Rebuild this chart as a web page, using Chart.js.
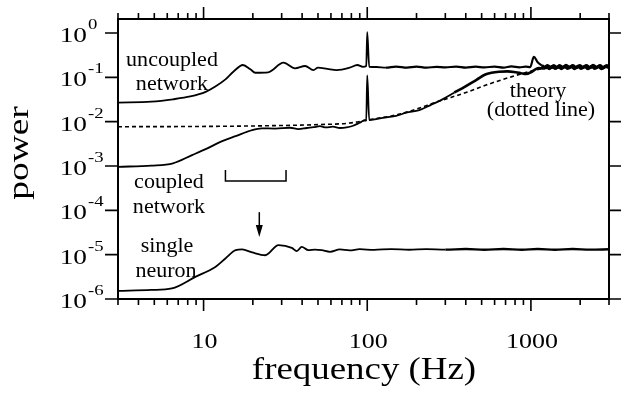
<!DOCTYPE html>
<html>
<head>
<meta charset="utf-8">
<script src="https://cdn.jsdelivr.net/npm/chart.js@4.4.0/dist/chart.umd.min.js"></script>
<style>
  html, body { margin: 0; padding: 0; background: #fff; }
  #wrap { width: 621px; height: 397px; position: relative; }
</style>
</head>
<body>
<div id="wrap"><canvas id="chart"></canvas></div>
<script>
// spectra: frequency (Hz) and power
const uncoupledFreq = [3, 4.8, 6.5, 8.3, 10.3, 11.8, 13.6, 15.2, 17.4, 19.3, 20.7, 24.8, 30.8, 36.2, 41.7, 46.9, 50, 57, 65, 78, 87, 94, 98.6, 100, 102.8, 114, 130, 150, 175, 200, 230, 265, 300, 350, 400, 460, 520, 600, 680, 760, 850, 930, 990, 1042, 1100, 1167, 1215, 1265, 1320, 1380, 1440, 1500, 1570, 1640, 1720, 1800, 1890, 1980, 2080, 2180, 2290, 2400, 2520, 2640, 2770, 2900, 3000];
const uncoupledPower = [0.027, 0.0284, 0.032, 0.037, 0.047, 0.062, 0.090, 0.134, 0.19, 0.152, 0.127, 0.13, 0.214, 0.16, 0.18, 0.146, 0.165, 0.155, 0.146, 0.165, 0.19, 0.173, 0.18, 1.04, 0.173, 0.171, 0.165, 0.175, 0.166, 0.174, 0.165, 0.173, 0.167, 0.175, 0.166, 0.174, 0.167, 0.175, 0.166, 0.176, 0.168, 0.175, 0.17, 0.29, 0.22, 0.185, 0.168, 0.184, 0.165, 0.185, 0.166, 0.184, 0.165, 0.186, 0.166, 0.184, 0.165, 0.185, 0.166, 0.184, 0.165, 0.186, 0.166, 0.184, 0.165, 0.185, 0.175];

const coupledFreq = [3, 4.8, 6.5, 8.5, 10.3, 13, 15.7, 19.8, 22.7, 27.4, 33.8, 38, 42.7, 47, 51.4, 56, 61.7, 68, 74.7, 82, 90, 96.6, 98.6, 100, 102.8, 115, 131, 150, 173, 208, 245, 288, 340, 401, 465, 531, 638, 720, 807, 870, 929, 1000, 1060, 1119, 1190, 1240, 1295, 1350, 1410, 1470, 1535, 1605, 1680, 1760, 1845, 1935, 2030, 2130, 2235, 2345, 2460, 2580, 2710, 2850, 3000];
const coupledPower = [0.00096, 0.00102, 0.00115, 0.00176, 0.0024, 0.00365, 0.00473, 0.00646, 0.00706, 0.0070, 0.0073, 0.0068, 0.0072, 0.0075, 0.0079, 0.0074, 0.0077, 0.0072, 0.0074, 0.0081, 0.0095, 0.0108, 0.0106, 0.11, 0.0109, 0.0116, 0.0125, 0.0135, 0.0159, 0.0183, 0.024, 0.0319, 0.045, 0.0636, 0.088, 0.117, 0.134, 0.136, 0.13, 0.124, 0.119, 0.13, 0.15, 0.163, 0.158, 0.176, 0.157, 0.177, 0.158, 0.176, 0.157, 0.177, 0.158, 0.176, 0.157, 0.177, 0.158, 0.176, 0.157, 0.177, 0.158, 0.176, 0.157, 0.176, 0.168];

const singleFreq = [3, 4.8, 6.4, 8.9, 11.8, 13.6, 15.7, 17.2, 19.8, 23.8, 28.7, 34.6, 37.1, 39.8, 43.7, 48, 52.7, 59.2, 68, 78, 90, 110, 140, 180, 230, 300, 400, 520, 680, 880, 1100, 1400, 1800, 2300, 3000];
const singlePower = [1.52e-6, 1.6e-6, 1.73e-6, 3.15e-6, 5.3e-6, 8.2e-6, 1.26e-5, 1.31e-5, 1.12e-5, 9.7e-6, 1.64e-5, 1.42e-5, 1.2e-5, 1.5e-5, 1.26e-5, 1.3e-5, 1.26e-5, 1.16e-5, 1.31e-5, 1.25e-5, 1.33e-5, 1.28e-5, 1.34e-5, 1.29e-5, 1.33e-5, 1.3e-5, 1.34e-5, 1.29e-5, 1.34e-5, 1.29e-5, 1.34e-5, 1.29e-5, 1.34e-5, 1.3e-5, 1.32e-5];

const theoryFreq = [3, 9.6, 24.8, 51.4, 78, 100, 158, 288, 392, 532, 735, 1014, 1285, 3000];
const theoryPower = [0.0077, 0.0078, 0.0081, 0.0086, 0.0093, 0.0109, 0.0148, 0.0307, 0.0442, 0.067, 0.099, 0.139, 0.162, 0.167];

// axis ticks
const xMajorTicks = [10, 100, 1000];
const xMajorLabels = ['10', '100', '1000'];
const xMinorTicks = [3, 4, 5, 6, 7, 8, 9, 20, 30, 40, 50, 60, 70, 80, 90, 200, 300, 400, 500, 600, 700, 800, 900, 2000, 3000];
const yTicks = [1e-6, 1e-5, 1e-4, 1e-3, 1e-2, 1e-1, 1];
const yExponents = ['-6', '-5', '-4', '-3', '-2', '-1', '0'];

// bracket and arrow marks
const bracketFreq = [13.6, 31.9];
const bracketPower = [8.1e-4, 4.6e-4];
const arrowFreq = 21.9;
const arrowPower = [9.1e-5, 2.5e-5];

const SERIF = '"Liberation Serif", "Times New Roman", serif';

function toPoints(f, p) {
    return f.map((x, i) => ({ x: x, y: p[i] }));
}

function drawText(ctx, txt, x, y, size, stretch, align) {
    ctx.save();
    ctx.font = size + 'px ' + SERIF;
    ctx.translate(x, y);
    ctx.scale(stretch, 1);
    ctx.textAlign = align;
    ctx.textBaseline = 'alphabetic';
    ctx.fillText(txt, 0, 0);
    ctx.restore();
}

const framePlugin = {
    id: 'frame',
    afterDatasetsDraw(chart) {
        const ctx = chart.ctx;
        const a = chart.chartArea;
        const xs = chart.scales.x;
        const ys = chart.scales.y;
        ctx.save();
        ctx.strokeStyle = '#000';
        ctx.fillStyle = '#000';

        // frame
        ctx.lineWidth = 2;
        ctx.strokeRect(a.left, a.top, a.right - a.left, a.bottom - a.top);

        // ticks, all pointing outwards
        ctx.lineWidth = 1.6;
        ctx.beginPath();
        xMajorTicks.forEach(v => {
            const px = xs.getPixelForValue(v);
            ctx.moveTo(px, a.bottom); ctx.lineTo(px, a.bottom + 12);
            ctx.moveTo(px, a.top); ctx.lineTo(px, a.top - 12);
        });
        xMinorTicks.forEach(v => {
            const px = xs.getPixelForValue(v);
            ctx.moveTo(px, a.bottom); ctx.lineTo(px, a.bottom + 6);
            ctx.moveTo(px, a.top); ctx.lineTo(px, a.top - 6);
        });
        yTicks.forEach(v => {
            const py = ys.getPixelForValue(v);
            ctx.moveTo(a.left - 13, py); ctx.lineTo(a.left, py);
            ctx.moveTo(a.right, py); ctx.lineTo(a.right + 12, py);
        });
        ctx.stroke();

        // tick labels
        xMajorTicks.forEach((v, i) => {
            drawText(ctx, xMajorLabels[i], xs.getPixelForValue(v) + 1, a.bottom + 49, 20, 1.3, 'center');
        });
        yTicks.forEach((v, i) => {
            const py = ys.getPixelForValue(v);
            drawText(ctx, '10', 87, py + 9, 21, 1.3, 'right');
            drawText(ctx, yExponents[i], 88, py - 4, 15, 1.25, 'left');
        });

        // axis titles
        drawText(ctx, 'frequency (Hz)', 364, 379, 31, 1.19, 'center');
        ctx.save();
        ctx.translate(28, 153);
        ctx.rotate(-Math.PI / 2);
        ctx.scale(1.25, 1);
        ctx.font = '30px ' + SERIF;
        ctx.textAlign = 'center';
        ctx.textBaseline = 'alphabetic';
        ctx.fillText('power', 0, 0);
        ctx.restore();

        // curve labels
        drawText(ctx, 'uncoupled', 172, 66, 21, 1.05, 'center');
        drawText(ctx, 'network', 172, 90, 21, 1.05, 'center');
        drawText(ctx, 'coupled', 169, 188, 21, 1.05, 'center');
        drawText(ctx, 'network', 169, 213, 21, 1.05, 'center');
        drawText(ctx, 'single', 167, 252, 21, 1.05, 'center');
        drawText(ctx, 'neuron', 166, 277, 21, 1.05, 'center');
        drawText(ctx, 'theory', 538, 97, 21, 1.05, 'center');
        drawText(ctx, '(dotted line)', 541, 116, 21, 1.05, 'center');

        // bracket
        const bx0 = xs.getPixelForValue(bracketFreq[0]);
        const bx1 = xs.getPixelForValue(bracketFreq[1]);
        const byTop = ys.getPixelForValue(bracketPower[0]);
        const byBot = ys.getPixelForValue(bracketPower[1]);
        ctx.lineWidth = 1.5;
        ctx.beginPath();
        ctx.moveTo(bx0, byTop); ctx.lineTo(bx0, byBot); ctx.lineTo(bx1, byBot); ctx.lineTo(bx1, byTop);
        ctx.stroke();

        // arrow
        const ax = xs.getPixelForValue(arrowFreq);
        const ay0 = ys.getPixelForValue(arrowPower[0]);
        const ay1 = ys.getPixelForValue(arrowPower[1]);
        ctx.beginPath();
        ctx.moveTo(ax, ay0); ctx.lineTo(ax, ay1 - 8);
        ctx.stroke();
        ctx.beginPath();
        ctx.moveTo(ax - 3.5, ay1 - 12); ctx.lineTo(ax + 3.5, ay1 - 12); ctx.lineTo(ax, ay1);
        ctx.closePath();
        ctx.fill();

        ctx.restore();
    }
};

const lineBase = {
    borderColor: '#000',
    borderWidth: 1.8,
    pointRadius: 0,
    fill: false,
    cubicInterpolationMode: 'monotone',
    borderJoinStyle: 'round'
};

new Chart(document.getElementById('chart'), {
    type: 'line',
    data: {
        datasets: [
            Object.assign({}, lineBase, {
                label: 'theory',
                data: toPoints(theoryFreq, theoryPower),
                borderWidth: 1.6,
                borderDash: [4, 3]
            }),
            Object.assign({}, lineBase, {
                label: 'uncoupled network',
                data: toPoints(uncoupledFreq, uncoupledPower),
                segment: { borderWidth: c => c.p0.parsed.x >= 1150 ? 3.2 : (c.p0.parsed.x >= 130 ? 2.2 : 1.8) }
            }),
            Object.assign({}, lineBase, {
                label: 'coupled network',
                data: toPoints(coupledFreq, coupledPower),
                segment: { borderWidth: c => c.p0.parsed.x >= 1150 ? 3 : (c.p0.parsed.x >= 300 ? 2.6 : 1.8) }
            }),
            Object.assign({}, lineBase, {
                label: 'single neuron',
                data: toPoints(singleFreq, singlePower),
                segment: { borderWidth: c => c.p0.parsed.x >= 300 ? 2.4 : 1.8 }
            })
        ]
    },
    options: {
        responsive: true,
        maintainAspectRatio: false,
        animation: false,
        layout: { padding: { left: 118, top: 19, right: 12, bottom: 98 } },
        plugins: {
            legend: { display: false },
            tooltip: { enabled: false }
        },
        scales: {
            x: { type: 'logarithmic', min: 3, max: 3000, display: false },
            y: { type: 'logarithmic', min: 1e-6, max: 2.07, display: false }
        }
    },
    plugins: [framePlugin]
});
</script>
</body>
</html>
